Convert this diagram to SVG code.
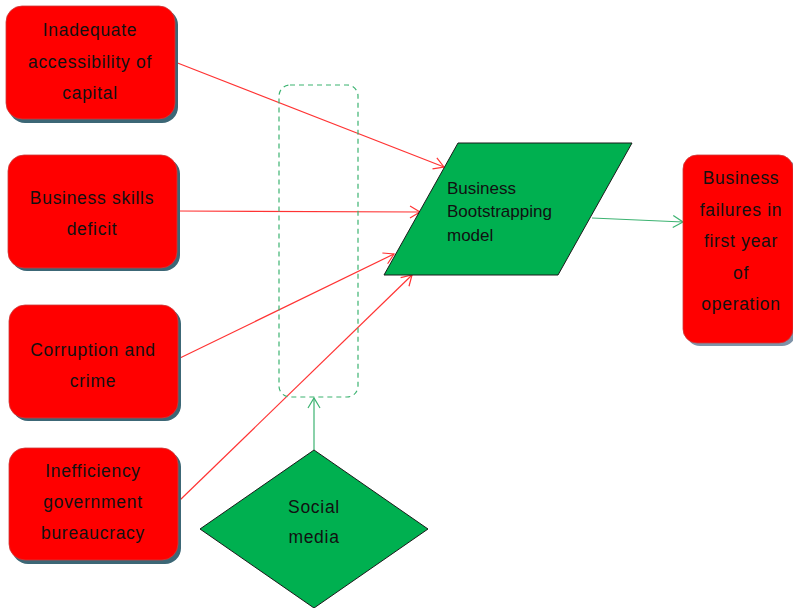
<svg xmlns="http://www.w3.org/2000/svg" width="793" height="608" viewBox="0 0 793 608">
<style>
.box{fill:#ff0000;stroke:#cc3b3b;stroke-width:0.8}
.shadow{fill:#3c6776}
.t{font-family:"Liberation Sans",Arial,sans-serif;font-size:17.5px;letter-spacing:0.7px;fill:#111111;text-anchor:middle}
.tl{font-family:"Liberation Sans",Arial,sans-serif;font-size:17px;fill:#111111}
.green{fill:#00b050;stroke:#1a1a1a;stroke-width:1}
.red{stroke:#ff3333;stroke-width:1.2;fill:none}
.grn{stroke:#3cb371;stroke-width:1.2;fill:none}
</style>
<defs>
<marker id="ar" markerWidth="14" markerHeight="14" refX="12" refY="7" orient="auto" markerUnits="userSpaceOnUse">
<path d="M2,1 L12,7 L2,13" fill="none" stroke="#ff3333" stroke-width="1.2"/>
</marker>
<marker id="ag" markerWidth="14" markerHeight="14" refX="12" refY="7" orient="auto" markerUnits="userSpaceOnUse">
<path d="M2,1 L12,7 L2,13" fill="none" stroke="#3cb371" stroke-width="1.2"/>
</marker>
</defs>
<rect width="793" height="608" fill="#ffffff"/>

<g id="connectors">
<line class="red" x1="175" y1="62" x2="444" y2="167" marker-end="url(#ar)"/>
<line class="red" x1="177" y1="211" x2="420" y2="212" marker-end="url(#ar)"/>
<line class="red" x1="180" y1="358" x2="394" y2="254" marker-end="url(#ar)"/>
<line class="red" x1="180" y1="500" x2="412" y2="275" marker-end="url(#ar)"/>
<line class="grn" x1="592" y1="218" x2="683" y2="222" marker-end="url(#ag)"/>
<line class="grn" x1="314" y1="450" x2="314" y2="398" marker-end="url(#ag)"/>
</g>

<g id="dashed-group">
<rect x="279" y="85" width="79" height="312" rx="11" fill="none" stroke="#3cb371" stroke-width="1.2" stroke-dasharray="5,4"/>
</g>

<g id="node-capital">
<rect class="shadow" x="9" y="9" width="169" height="114" rx="16"/>
<rect class="box" x="6" y="6" width="169" height="113" rx="16"/>
<text class="t" x="90" y="36">Inadequate</text>
<text class="t" x="90" y="68">accessibility of</text>
<text class="t" x="90" y="99">capital</text>
</g>

<g id="node-skills">
<rect class="shadow" x="11" y="158" width="169" height="113" rx="16"/>
<rect class="box" x="8" y="155" width="169" height="113" rx="16"/>
<text class="t" x="92" y="204">Business skills</text>
<text class="t" x="92" y="235">deficit</text>
</g>

<g id="node-corruption">
<rect class="shadow" x="12" y="308" width="169" height="113" rx="16"/>
<rect class="box" x="9" y="305" width="169" height="113" rx="16"/>
<text class="t" x="93" y="356">Corruption and</text>
<text class="t" x="93" y="387">crime</text>
</g>

<g id="node-bureaucracy">
<rect class="shadow" x="12" y="451" width="169" height="113" rx="16"/>
<rect class="box" x="9" y="448" width="169" height="112" rx="16"/>
<text class="t" x="93" y="477">Inefficiency</text>
<text class="t" x="93" y="508">government</text>
<text class="t" x="93" y="539">bureaucracy</text>
</g>

<g id="node-model">
<polygon class="green" points="458,143 632,143 558,275 384,275"/>
<text class="tl" x="447" y="194">Business</text>
<text class="tl" x="447" y="217">Bootstrapping</text>
<text class="tl" x="447" y="241">model</text>
</g>

<g id="node-failures">
<rect x="686" y="158" width="110" height="188" rx="14" fill="#7f93a8"/>
<rect class="box" x="683" y="155" width="110" height="188" rx="14"/>
<text class="t" x="741" y="184">Business</text>
<text class="t" x="741" y="216">failures in</text>
<text class="t" x="741" y="247">first year</text>
<text class="t" x="741" y="279">of</text>
<text class="t" x="741" y="310">operation</text>
</g>

<g id="node-social">
<polygon class="green" points="314,450 428,529 314,608 200,529"/>
<text class="t" x="314" y="513">Social</text>
<text class="t" x="314" y="543">media</text>
</g>
</svg>
